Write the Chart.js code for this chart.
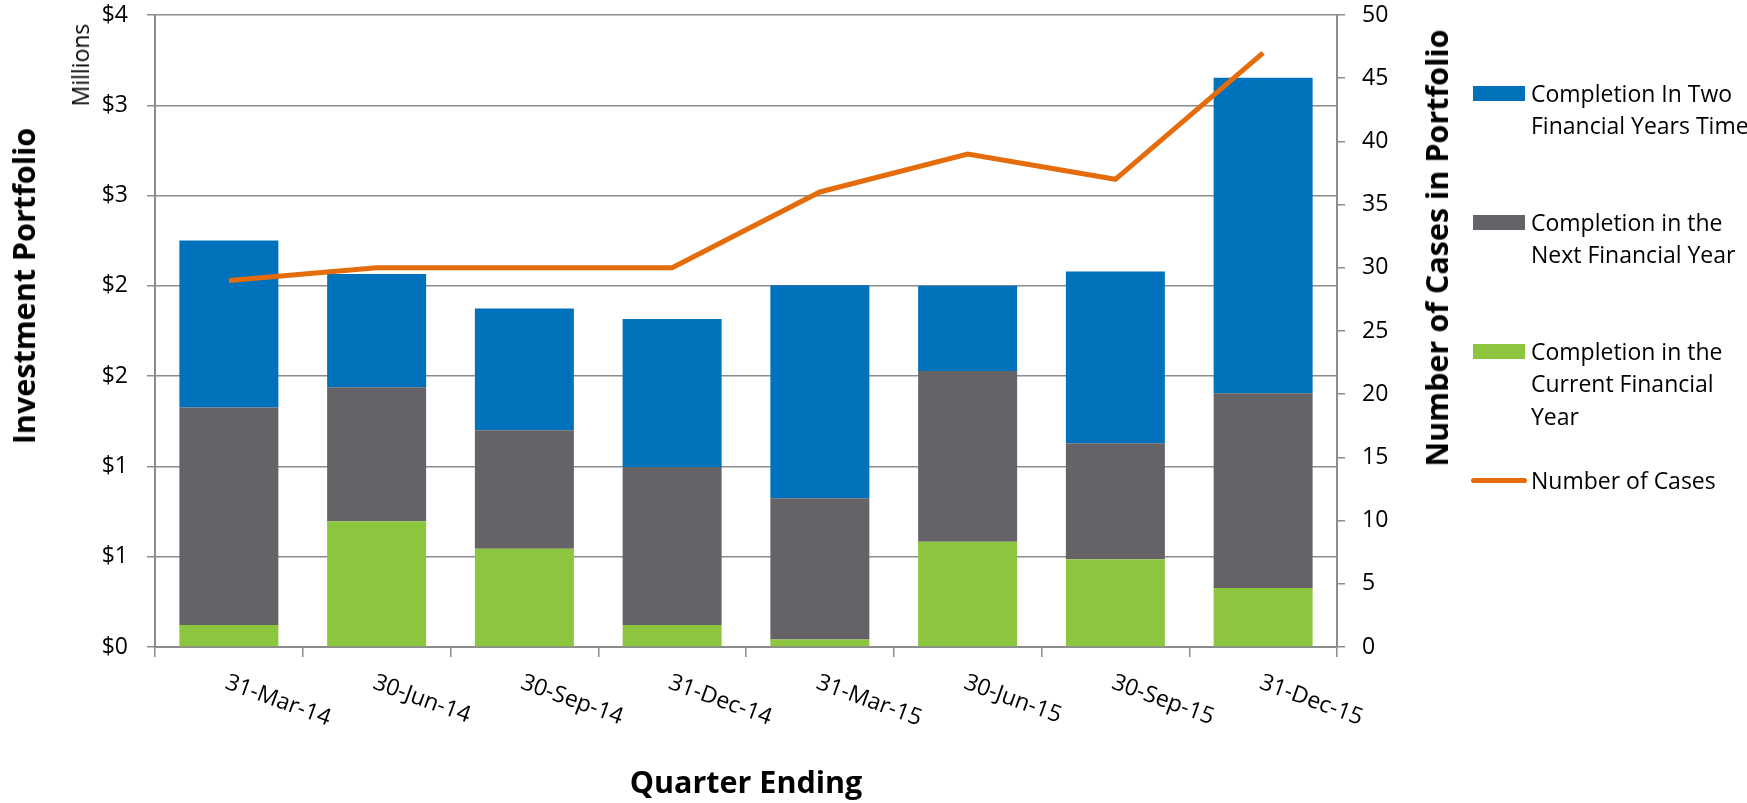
<!DOCTYPE html>
<html>
<head>
<meta charset="utf-8">
<script src="https://cdn.jsdelivr.net/npm/chart.js@4.4.1/dist/chart.umd.min.js"></script>
<style>
    html, body { margin: 0; padding: 0; background: #fff; overflow: hidden; }
    #wrap { position: relative; width: 1747px; height: 803px; overflow: hidden; font-family: 'Open Sans', sans-serif; color: #000; }
    #chart { position: absolute; left: 0; top: 0; }
    .vtitle { position: absolute; white-space: nowrap; transform: translate(-50%, -50%) rotate(-90deg); }
    .bold { font-weight: bold; font-size: 30.5px; }
    .legend-swatch { position: absolute; left: 1473px; width: 52px; height: 15px; }
    .legend-text { position: absolute; left: 1531px; font-size: 23px; line-height: 32.7px; white-space: pre; }
</style>
</head>
<body>
<div id="wrap">
    <canvas id="chart" width="1747" height="803"></canvas>
    <div class="vtitle bold" style="left:23px; top:286px;">Investment Portfolio</div>
    <div class="vtitle" style="left:80px; top:65px; font-size:23px;">Millions</div>
    <div class="vtitle bold" style="left:1436px; top:248px;">Number of Cases in Portfolio</div>
    <div id="legend"></div>
</div>
<script>
// Dados
const quarters = ['31-Mar-14', '30-Jun-14', '30-Sep-14', '31-Dec-14', '31-Mar-15', '30-Jun-15', '30-Sep-15', '31-Dec-15'];

const currentYear = [122000, 697000, 544000, 122000, 42000, 583000, 486000, 327000];
const nextYear = [1205000, 741000, 656000, 875000, 782000, 946000, 643000, 1078000];
const twoYears = [924000, 627000, 675000, 819000, 1180000, 471000, 951000, 1747000];
const cases = [29, 30, 30, 30, 36, 39, 37, 47];

const leftTickLabels = ['$0', '$1', '$1', '$2', '$2', '$3', '$3', '$4'];

const LABELS = {
    twoYears: 'Completion In Two\nFinancial Years Time',
    nextYear: 'Completion in the\nNext Financial Year',
    currentYear: 'Completion in the\nCurrent Financial\nYear',
    cases: 'Number of Cases'
};

const COLORS = {
    blue: '#0071bb',
    grey: '#656367',
    green: '#8cc63f',
    orange: '#e46c0a',
    axis: '#8c8c8c'
};

Chart.defaults.font.family = "'Open Sans', sans-serif";
Chart.defaults.font.size = 23;
Chart.defaults.color = '#000';

// Rótulos do eixo x inclinados no sentido horário
const xLabelsPlugin = {
    id: 'xLabels',
    afterDraw: (chart) => {
        const { ctx } = chart;
        const xScale = chart.scales.x;
        ctx.save();
        ctx.font = "23px 'Open Sans', sans-serif";
        ctx.fillStyle = '#000';
        ctx.textAlign = 'left';
        ctx.textBaseline = 'alphabetic';
        quarters.forEach((q, i) => {
            const x = xScale.getPixelForValue(i);
            ctx.save();
            ctx.translate(x - 5, xScale.top + 41);
            ctx.rotate(20 * Math.PI / 180);
            ctx.fillText(q, 0, 0);
            ctx.restore();
        });
        ctx.restore();
    }
};

// Sem folga extra acima/abaixo dos eixos verticais
const fixVertical = (width) => (s) => {
    s.width = width;
    s.paddingTop = 0;
    s.paddingBottom = 0;
};

const barCommon = {
    type: 'bar',
    yAxisID: 'y',
    barPercentage: 0.67,
    categoryPercentage: 1.0,
    borderWidth: 0,
    order: 1
};

new Chart(document.getElementById('chart').getContext('2d'), {
    type: 'bar',
    data: {
        labels: quarters,
        datasets: [
            { ...barCommon, label: LABELS.currentYear.replace(/\n/g, ' '), data: currentYear, backgroundColor: COLORS.green },
            { ...barCommon, label: LABELS.nextYear.replace(/\n/g, ' '), data: nextYear, backgroundColor: COLORS.grey },
            { ...barCommon, label: LABELS.twoYears.replace(/\n/g, ' '), data: twoYears, backgroundColor: COLORS.blue },
            {
                type: 'line',
                label: LABELS.cases,
                data: cases,
                yAxisID: 'y2',
                borderColor: COLORS.orange,
                backgroundColor: COLORS.orange,
                borderWidth: 5,
                pointRadius: 0,
                tension: 0,
                fill: false,
                order: 0
            }
        ]
    },
    options: {
        responsive: false,
        animation: false,
        layout: { padding: { top: 15, left: 0, right: 0, bottom: 0 } },
        plugins: {
            legend: { display: false },
            tooltip: { enabled: false }
        },
        scales: {
            x: {
                stacked: true,
                offset: true,
                grid: { offset: true, drawOnChartArea: false, color: COLORS.axis, lineWidth: 1.5, tickLength: 10 },
                border: { color: COLORS.axis, width: 2 },
                ticks: { display: false },
                title: { display: true, text: 'Quarter Ending', font: { size: 30.5, weight: 'bold' }, padding: 0 },
                afterFit: (s) => { s.height = 156; }
            },
            y: {
                position: 'left',
                stacked: true,
                min: 0,
                max: 3500000,
                ticks: {
                    stepSize: 500000,
                    padding: 19,
                    callback: (value, index) => leftTickLabels[index]
                },
                grid: { color: COLORS.axis, lineWidth: 1.5, tickLength: 8 },
                border: { color: COLORS.axis, width: 2 },
                afterFit: fixVertical(155)
            },
            y2: {
                position: 'right',
                min: 0,
                max: 50,
                ticks: { stepSize: 5, padding: 17 },
                grid: { drawOnChartArea: false, color: COLORS.axis, lineWidth: 1.5, tickLength: 8 },
                border: { color: COLORS.axis, width: 2 },
                afterFit: fixVertical(410)
            }
        }
    },
    plugins: [xLabelsPlugin]
});

// Legenda à direita
const legendItems = [
    { text: LABELS.twoYears, color: COLORS.blue, center: 93, kind: 'box' },
    { text: LABELS.nextYear, color: COLORS.grey, center: 222, kind: 'box' },
    { text: LABELS.currentYear, color: COLORS.green, center: 351, kind: 'box' },
    { text: LABELS.cases, color: COLORS.orange, center: 480, kind: 'line' }
];

const legend = document.getElementById('legend');
legendItems.forEach(item => {
    const sw = document.createElement('div');
    sw.className = 'legend-swatch';
    sw.style.background = item.color;
    if (item.kind === 'line') {
        sw.style.left = '1471px';
        sw.style.width = '56px';
        sw.style.height = '5px';
        sw.style.borderRadius = '3px';
        sw.style.top = (item.center - 2.5) + 'px';
    } else {
        sw.style.top = (item.center - 7.5) + 'px';
    }
    legend.appendChild(sw);

    const tx = document.createElement('div');
    tx.className = 'legend-text';
    tx.style.top = (item.center - 16.35) + 'px';
    tx.textContent = item.text;
    legend.appendChild(tx);
});
</script>
</body>
</html>
